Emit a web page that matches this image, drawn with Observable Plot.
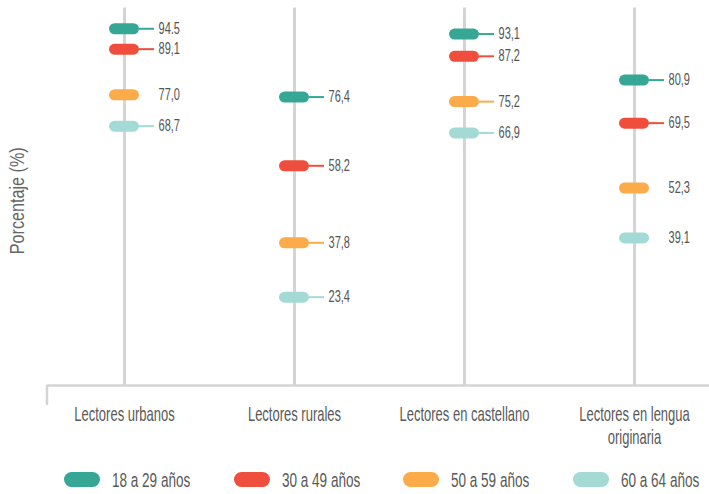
<!DOCTYPE html>
<html>
<head>
<meta charset="utf-8">
<script src="https://cdn.jsdelivr.net/npm/d3@7"></script>
<script src="https://cdn.jsdelivr.net/npm/@observablehq/plot@0.6"></script>
<style>
  html, body { margin: 0; padding: 0; background: #fff; overflow: hidden; }
  body, svg, text { font-family: "Liberation Sans", Arial, sans-serif; }
  #wrap { position: relative; width: 709px; height: 494px; }
  #legend { position: absolute; top: 471.5px; left: 64px; display: flex; }
  .item { display: flex; align-items: center; width: 169.5px; height: 16px; }
  .sw { width: 36px; height: 15px; border-radius: 8px; flex: none; }
  .lab { margin-left: 12px; font-size: 20.5px; line-height: 16px; color: #595959; white-space: nowrap;
         display: inline-block; transform: scaleX(0.66); transform-origin: left center; }
</style>
</head>
<body>
<div id="wrap"><div id="chart"></div><div id="legend"></div></div>
<script>
const categories = ["Lectores urbanos", "Lectores rurales", "Lectores en castellano", "Lectores en lengua\noriginaria"];
const series = ["18 a 29 años", "30 a 49 años", "50 a 59 años", "60 a 64 años"];
const colors = ["#35a794", "#f04e3c", "#fbab4a", "#a4dad5"];

const values18 = [94.5, 76.4, 93.1, 80.9];
const values30 = [89.1, 58.2, 87.2, 69.5];
const values50 = [77.0, 37.8, 75.2, 52.3];
const values60 = [68.7, 23.4, 66.9, 39.1];

const labels18 = ["94.5", "76,4", "93,1", "80,9"];
const labels30 = ["89,1", "58,2", "87,2", "69,5"];
const labels50 = ["77,0", "37,8", "75,2", "52,3"];
const labels60 = ["68,7", "23,4", "66,9", "39,1"];

const leader18 = [true, true, true, true];
const leader30 = [true, true, true, true];
const leader50 = [false, true, true, false];
const leader60 = [true, true, true, false];

const yLabel = "Porcentaje (%)";

const allValues = [values18, values30, values50, values60];
const allLabels = [labels18, labels30, labels50, labels60];
const allLeaders = [leader18, leader30, leader50, leader60];

const data = [];
series.forEach((s, si) => {
  categories.forEach((c, ci) => {
    data.push({cat: c, series: s, value: allValues[si][ci], label: allLabels[si][ci], leader: allLeaders[si][ci]});
  });
});

const font = '"Liberation Sans", Arial, sans-serif';

const chart = Plot.plot({
  width: 709,
  height: 450,
  marginTop: 7.5,
  marginBottom: 65,
  marginLeft: 47,
  marginRight: 0,
  style: {fontFamily: font, background: "#fff"},
  x: {type: "band", domain: categories, range: [39, 719], padding: 0},
  y: {domain: [0, 100], axis: null},
  color: {domain: series, range: colors},
  marks: [
    Plot.ruleX(categories, {x: d => d, y1: 0, y2: 100, stroke: "#d4d4d4", strokeWidth: 3}),
    Plot.ruleY([0], {stroke: "#d4d4d4", strokeWidth: 2.5}),
    (index, scales, values, dim) => {
      const y0 = scales.y(0);
      return d3.create("svg:line")
        .attr("x1", dim.marginLeft).attr("x2", dim.marginLeft)
        .attr("y1", y0).attr("y2", y0 + 20)
        .attr("stroke", "#d4d4d4").attr("stroke-width", 2.5)
        .node();
    },
    Plot.axisX({tickSize: 0, tickPadding: 18.5, fontSize: 20, lineHeight: 1.17, color: "#595959", label: null}),
    Plot.tickY(data.filter(d => d.leader), {x: "cat", y: "value", stroke: "series", strokeWidth: 2, insetLeft: 100, insetRight: 55}),
    Plot.tickY(data, {x: "cat", y: "value", stroke: "series", strokeWidth: 11, strokeLinecap: "round", insetLeft: 75.5, insetRight: 75.5}),
    Plot.text(data, {x: "cat", y: "value", text: "label", dx: 34, textAnchor: "start", fill: "#555", fontSize: 16}),
    Plot.text([yLabel], {frameAnchor: "left", textAnchor: "middle", rotate: -90, dx: -30, dy: 4, fontSize: 20, fill: "#666"})
  ]
});
document.getElementById("chart").appendChild(chart);

// condense glyphs horizontally to mimic the reference's narrow typeface
chart.querySelectorAll("text").forEach(t => {
  const g = t.closest("[font-size]");
  if (!g) return;
  let s;
  if (t.textContent === yLabel) {
    const len = t.getComputedTextLength();
    s = len > 0 ? 107 / len : 0.8;
  } else {
    s = {"20": 0.65, "16": 0.69}[String(parseFloat(g.getAttribute("font-size")))];
  }
  if (!s) return;
  const tr = t.getAttribute("transform") || "";
  t.setAttribute("transform", `${tr} scale(${s},1)`.trim());
});

const legend = document.getElementById("legend");
series.forEach((s, i) => {
  const item = document.createElement("div");
  item.className = "item";
  const sw = document.createElement("div");
  sw.className = "sw";
  sw.style.background = colors[i];
  const lab = document.createElement("span");
  lab.className = "lab";
  lab.textContent = s;
  item.appendChild(sw);
  item.appendChild(lab);
  legend.appendChild(item);
});
</script>
</body>
</html>
